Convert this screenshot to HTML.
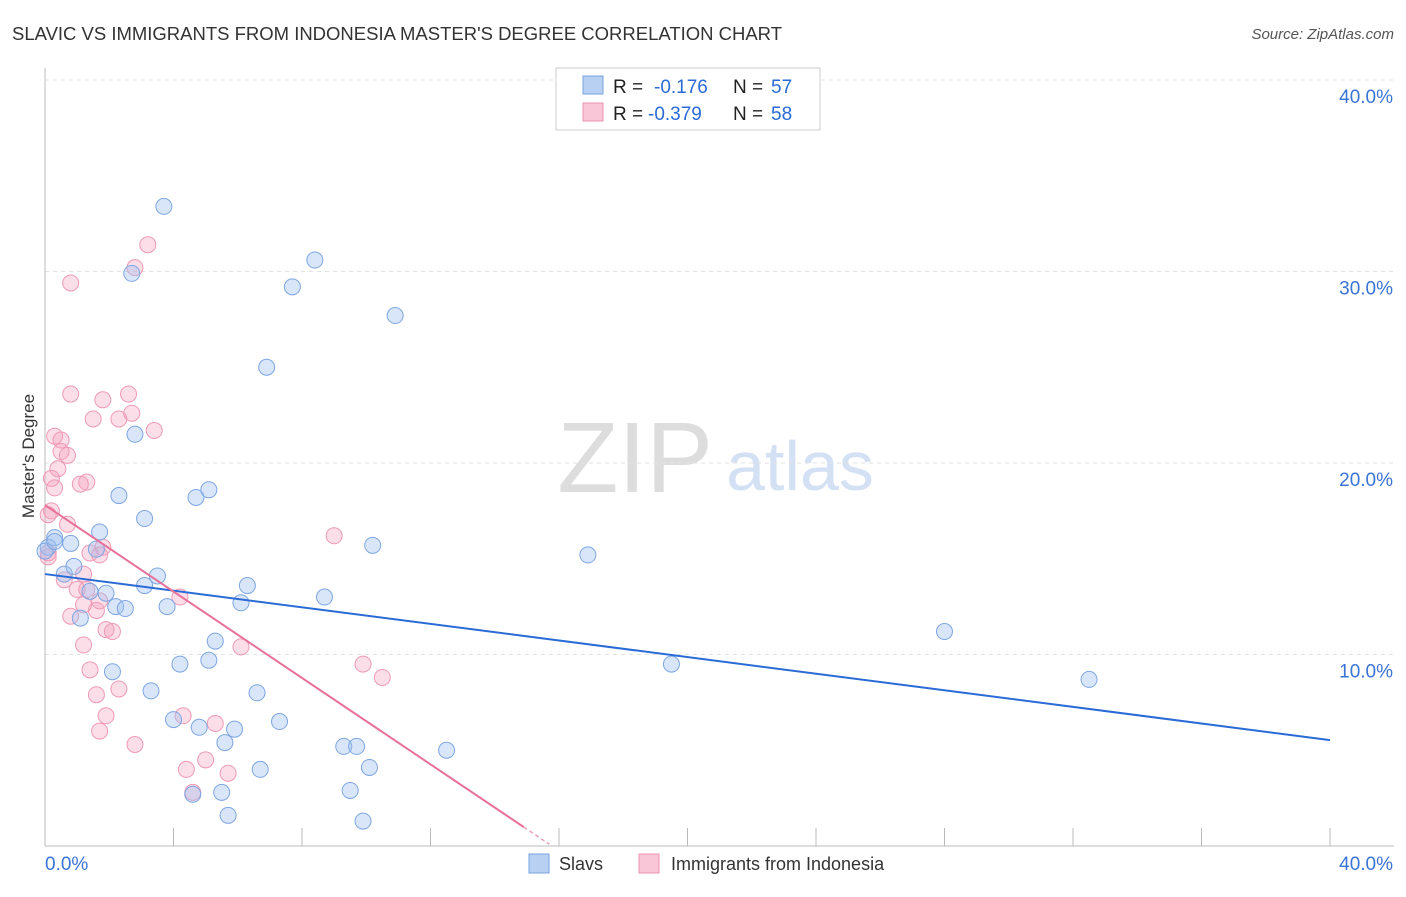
<!DOCTYPE html>
<html><head><meta charset="utf-8"><style>
body{margin:0;background:#fff;font-family:"Liberation Sans",sans-serif;}
svg text{font-family:"Liberation Sans",sans-serif;}
</style></head><body>
<svg id="chart" width="1406" height="892">
<text x="12" y="40" font-size="18" fill="#333" textLength="770" lengthAdjust="spacingAndGlyphs">SLAVIC VS IMMIGRANTS FROM INDONESIA MASTER'S DEGREE CORRELATION CHART</text>
<text x="1394" y="39" font-size="15" fill="#555" text-anchor="end" font-style="italic">Source: ZipAtlas.com</text>
<text x="34" y="456" font-size="17" fill="#333" text-anchor="middle" transform="rotate(-90 34 456)">Master's Degree</text>
<g><text x="635" y="492" font-size="100" fill="#ddd" text-anchor="middle" font-family="Liberation Serif">ZIP</text><text x="800" y="490" font-size="70" fill="#d4e0f4" text-anchor="middle">atlas</text></g>
<g id="grid"></g><g id="axes"></g><g id="pts"></g><g id="trend"></g>
<g>
<rect x="556" y="68" width="264" height="62" fill="#fff" stroke="#ccc"/>
<rect x="583" y="76" width="20" height="18" fill="#b8d0f2" stroke="#7aa3e0"/>
<text x="613" y="93" font-size="19" fill="#222">R =</text><text x="654" y="93" font-size="19" fill="#2a6bd6">-0.176</text>
<text x="733" y="93" font-size="19" fill="#222">N =</text><text x="771" y="93" font-size="19" fill="#2a6bd6">57</text>
<rect x="583" y="103" width="20" height="18" fill="#f8c6d6" stroke="#ec94b0"/>
<text x="613" y="120" font-size="19" fill="#222">R =</text><text x="648" y="120" font-size="19" fill="#2a6bd6">-0.379</text>
<text x="733" y="120" font-size="19" fill="#222">N =</text><text x="771" y="120" font-size="19" fill="#2a6bd6">58</text>
</g>
<g>
<rect x="529" y="854" width="20" height="19" fill="#b8d0f2" stroke="#7aa3e0"/>
<text x="559" y="870" font-size="18" fill="#333">Slavs</text>
<rect x="639" y="854" width="20" height="19" fill="#f8c6d6" stroke="#ec94b0"/>
<text x="671" y="870" font-size="18" fill="#333">Immigrants from Indonesia</text>
</g>
</svg>
<script>
const xTicks=[0,4,8,12,16,20,24,28,32,36,40];
const yTicks=[10,20,30,40];
const blueX=[3.7,2.7,8.4,7.7,10.9,6.9,2.8,2.3,4.7,5.1,3.1,1.7,0.3,0.1,0.8,1.6,10.2,16.9,0.6,0.9,3.5,3.1,6.3,1.9,1.4,2.2,2.5,3.8,6.1,8.7,1.1,5.3,5.1,4.2,2.1,28.0,19.5,32.5,3.3,6.6,4.0,4.8,5.9,7.3,5.6,9.3,9.7,12.5,10.1,6.7,9.5,5.5,4.6,5.7,9.9,0.0,0.3];
const blueY=[33.4,29.9,30.6,29.2,27.7,25.0,21.5,18.3,18.2,18.6,17.1,16.4,16.1,15.6,15.8,15.5,15.7,15.2,14.2,14.6,14.1,13.6,13.6,13.2,13.3,12.5,12.4,12.5,12.7,13.0,11.9,10.7,9.7,9.5,9.1,11.2,9.5,8.7,8.1,8.0,6.6,6.2,6.1,6.5,5.4,5.2,5.2,5.0,4.1,4.0,2.9,2.8,2.7,1.6,1.3,15.4,15.9];
const pinkX=[3.2,2.8,0.8,0.8,2.6,1.8,2.7,1.5,2.3,3.4,0.3,0.5,0.5,0.7,0.4,0.2,0.3,1.3,1.1,0.2,0.7,9.0,1.8,1.4,1.7,1.2,0.1,0.6,1.0,1.3,4.2,1.2,1.7,0.8,1.6,1.9,2.1,1.2,6.1,9.9,1.4,10.5,1.6,2.3,4.3,1.9,5.3,1.7,2.8,5.0,4.4,5.7,4.6,0.1,0.1];
const pinkY=[31.4,30.2,29.4,23.6,23.6,23.3,22.6,22.3,22.3,21.7,21.4,21.2,20.6,20.4,19.7,19.2,18.7,19.0,18.9,17.5,16.8,16.2,15.6,15.3,15.2,14.2,15.1,13.9,13.4,13.4,13.0,12.6,12.8,12.0,12.3,11.3,11.2,10.5,10.4,9.5,9.2,8.8,7.9,8.2,6.8,6.8,6.4,6.0,5.3,4.5,4.0,3.8,2.8,15.3,17.3];
const blueTrend=[14.2,5.53];   // y at x=0 and x=40
const pinkTrend=[17.8,-1.128]; // intercept, slope
const pinkSolidEnd=14.9, pinkDashEnd=15.7;
const X=v=>45+v*32.125, Y=v=>846-v*19.15;
const ns='http://www.w3.org/2000/svg';
function mk(t,a,p){const e=document.createElementNS(ns,t);for(const k in a)e.setAttribute(k,a[k]);p.appendChild(e);return e;}
const grid=document.getElementById('grid'),axes=document.getElementById('axes');
for(const t of yTicks){
 const l=mk('line',{x1:45,x2:1394,y1:Y(t),y2:Y(t),stroke:'#e2e2e2','stroke-dasharray':'4,4'},grid);
 
 
 const tx=mk('text',{x:1393,y:Y(t)+23,'font-size':19,fill:'#3a74d6','text-anchor':'end'},axes);tx.textContent=t.toFixed(1)+'%';
 
 
}
const ax=mk('line',{x1:45,x2:1394,y1:846,y2:846,stroke:'#bbb'},axes);


const ay=mk('line',{x1:45,x2:45,y1:68,y2:846,stroke:'#bbb'},axes);


for(const t of xTicks){if(t===0)continue;
 const l=mk('line',{x1:X(t),x2:X(t),y1:828,y2:846,stroke:'#bbb'},axes);
 
 
}
const xl0=mk('text',{x:45,y:870,'font-size':19,fill:'#3a74d6'},axes);xl0.textContent=xTicks[0].toFixed(1)+'%';


const xl1=mk('text',{x:1393,y:870,'font-size':19,fill:'#3a74d6','text-anchor':'end'},axes);xl1.textContent=xTicks[xTicks.length-1].toFixed(1)+'%';


const pts=document.getElementById('pts');
pinkX.forEach((v,i)=>{const c=mk('circle',{cx:X(v),cy:Y(pinkY[i]),r:8,fill:'rgba(244,160,188,0.35)',stroke:'#ee9ab5','stroke-width':1},pts);
 
 });
blueX.forEach((v,i)=>{const c=mk('circle',{cx:X(v),cy:Y(blueY[i]),r:8,fill:'rgba(160,192,240,0.4)',stroke:'#7ea6e2','stroke-width':1},pts);
 
 });
const tr=document.getElementById('trend');
const bl=mk('line',{x1:X(0),y1:Y(blueTrend[0]),x2:X(40),y2:Y(blueTrend[1]),stroke:'#2a6bd6','stroke-width':2},tr);


const pf=x=>pinkTrend[0]+pinkTrend[1]*x;
const pl=mk('line',{x1:X(0),y1:Y(pf(0)),x2:X(pinkSolidEnd),y2:Y(pf(pinkSolidEnd)),stroke:'#e8709a','stroke-width':2},tr);


const pd=mk('line',{x1:X(pinkSolidEnd),y1:Y(pf(pinkSolidEnd)),x2:X(pinkDashEnd),y2:Y(pf(pinkDashEnd)),stroke:'#e8a0b8','stroke-width':1.5,'stroke-dasharray':'4,3'},tr);


</script>
</body></html>
